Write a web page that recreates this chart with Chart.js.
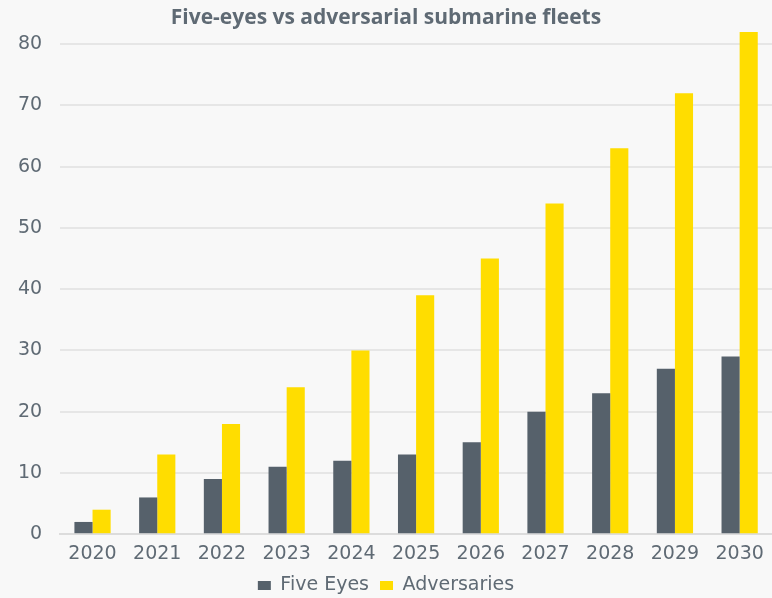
<!DOCTYPE html>
<html>
<head>
<meta charset="utf-8">
<script src="https://cdn.jsdelivr.net/npm/chart.js@4/dist/chart.umd.min.js"></script>
<style>
    html, body { margin: 0; padding: 0; background: #f8f8f8; }
    #wrap { width: 772px; height: 598px; position: relative; }
</style>
</head>
<body>
<div id="wrap"><canvas id="chartFleets"></canvas></div>
<script>
const years = ["2020", "2021", "2022", "2023", "2024", "2025", "2026", "2027", "2028", "2029", "2030"];
const fiveEyes = [2, 6, 9, 11, 12, 13, 15, 20, 23, 27, 29];
const adversaries = [4, 13, 18, 24, 30, 39, 45, 54, 63, 72, 82];

const textColor = "#5f6a74";

new Chart("chartFleets", {
    type: "bar",
    data: {
        labels: years,
        datasets: [{
            data: fiveEyes,
            label: "Five Eyes",
            backgroundColor: "#56616b",
            categoryPercentage: 0.56,
            barPercentage: 1,
            clip: false
        },
        {
            data: adversaries,
            label: "Adversaries",
            backgroundColor: "#ffdd00",
            categoryPercentage: 0.56,
            barPercentage: 1,
            clip: false
        }]
    },
    options: {
        responsive: true,
        maintainAspectRatio: false,
        animation: false,
        layout: {
            padding: { left: 0, right: 0, top: 0, bottom: -7 }
        },
        plugins: {
            title: {
                display: true,
                text: "Five-eyes vs adversarial submarine fleets",
                color: textColor,
                font: { family: "Open Sans", size: 21, weight: "bold" },
                padding: { top: 5, bottom: 14 }
            },
            legend: {
                display: true,
                position: "bottom",
                labels: {
                    color: textColor,
                    font: { family: "DejaVu Sans", size: 19 },
                    boxWidth: 13,
                    boxHeight: 9,
                    padding: 11
                }
            },
            tooltip: { enabled: false }
        },
        scales: {
            x: {
                grid: { display: false },
                border: { color: "#dcdcdc", width: 2 },
                ticks: {
                    color: textColor,
                    font: { family: "DejaVu Sans", size: 19 },
                    maxRotation: 0,
                    padding: 0
                }
            },
            y: {
                min: 0,
                max: 80,
                grid: { color: "#e6e6e6", lineWidth: 2, drawTicks: false },
                border: { display: false },
                ticks: {
                    stepSize: 10,
                    color: textColor,
                    font: { family: "DejaVu Sans", size: 19 },
                    padding: 18
                }
            }
        }
    }
});
</script>
</body>
</html>
